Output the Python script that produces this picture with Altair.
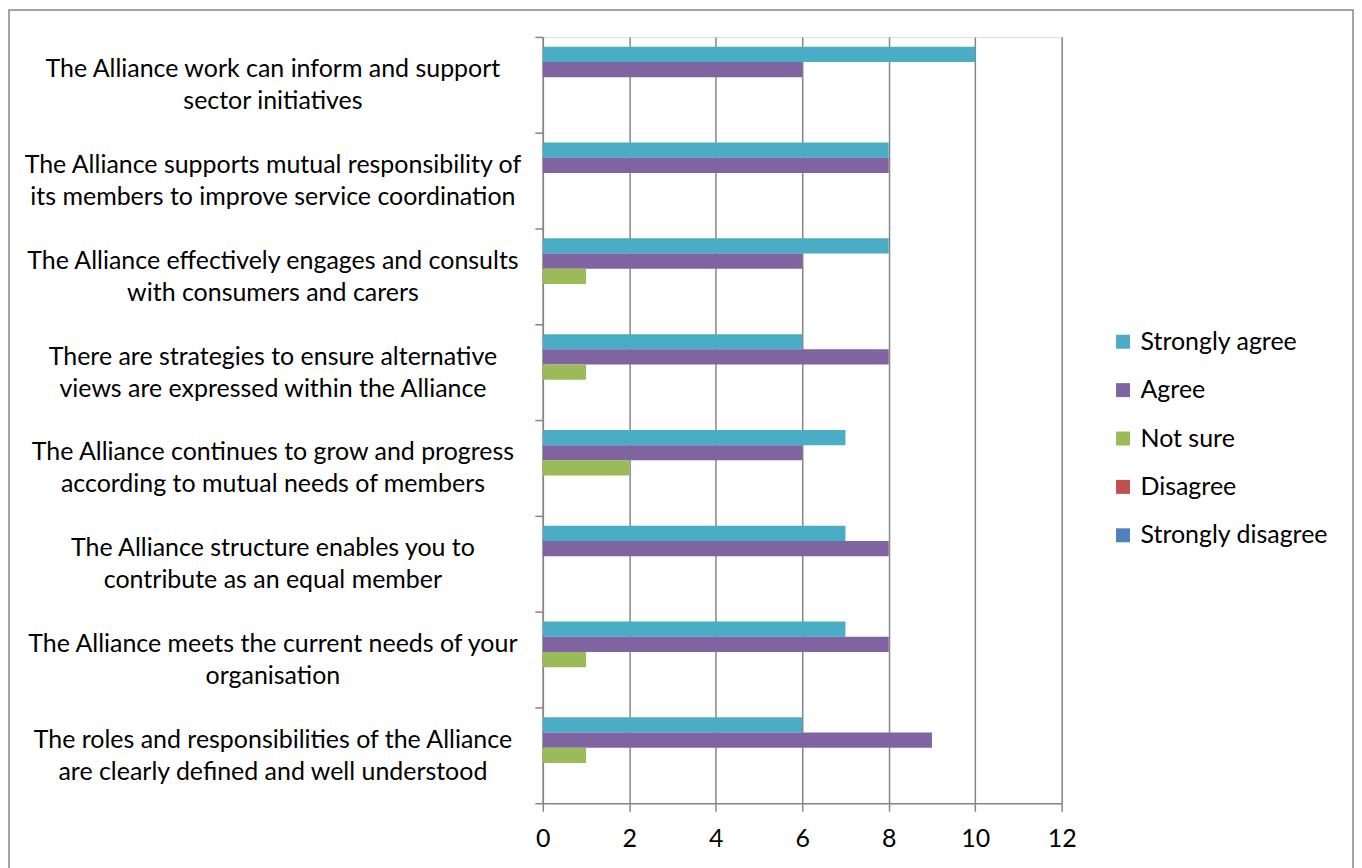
import altair as alt
import pandas as pd

categories = [
    "The Alliance work can inform and support|sector initiatives",
    "The Alliance supports mutual responsibility of|its members to improve service coordination",
    "The Alliance effectively engages and consults|with consumers and carers",
    "There are strategies to ensure alternative|views are expressed within the Alliance",
    "The Alliance continues to grow and progress|according to mutual needs of members",
    "The Alliance structure enables you to|contribute as an equal member",
    "The Alliance meets the current needs of your|organisation",
    "The roles and responsibilities of the Alliance|are clearly defined and well understood",
]
series = ["Strongly agree", "Agree", "Not sure", "Disagree", "Strongly disagree"]
colors = ["#4BACC6", "#8064A2", "#9BBB59", "#C0504D", "#4F81BD"]

strongly_agree = [10, 8, 8, 6, 7, 7, 7, 6]
agree = [6, 8, 6, 8, 6, 8, 8, 9]
not_sure = [0, 0, 1, 1, 2, 0, 1, 1]
disagree = [0, 0, 0, 0, 0, 0, 0, 0]
strongly_disagree = [0, 0, 0, 0, 0, 0, 0, 0]
x_ticks = [0, 2, 4, 6, 8, 10, 12]

rows = []
for s, vals in zip(series, [strongly_agree, agree, not_sure, disagree, strongly_disagree]):
    for c, v in zip(categories, vals):
        rows.append({"Statement": c, "Response": s, "Count": v})
df = pd.DataFrame(rows)

FONT = "Lato"
FS = 25
GRAY = "#868686"

bars = alt.Chart(df).mark_bar().encode(
    y=alt.Y(
        "Statement:N",
        sort=categories,
        title=None,
        scale=alt.Scale(paddingInner=0, paddingOuter=0),
        axis=alt.Axis(
            labelExpr="split(datum.label, '|')",
            labelAlign="center",
            labelPadding=263,
            labelOffset=-16,
            labelFont=FONT,
            labelFontSize=FS,
            labelColor="black",
            labelLineHeight=32,
            labelLimit=700,
            tickBand="extent",
            tickSize=8,
            tickColor=GRAY,
            tickWidth=1.5,
            domainColor=GRAY,
            domainWidth=1.5,
            grid=False,
        ),
    ),
    yOffset=alt.YOffset(
        "Response:N",
        sort=series,
        scale=alt.Scale(paddingInner=0, paddingOuter=0.65),
    ),
    x=alt.X(
        "Count:Q",
        title=None,
        scale=alt.Scale(domain=[0, 12], nice=False),
        axis=alt.Axis(
            values=x_ticks,
            labelFont=FONT,
            labelFontSize=FS,
            labelColor="black",
            labelPadding=15,
            labelFlush=False,
            tickSize=8,
            tickColor=GRAY,
            tickWidth=1.5,
            domainColor=GRAY,
            domainWidth=1.5,
            grid=True,
            gridColor=GRAY,
            gridWidth=1.5,
        ),
    ),
    color=alt.Color(
        "Response:N",
        sort=series,
        scale=alt.Scale(domain=series, range=colors),
        legend=alt.Legend(
            title=None,
            orient="none",
            legendX=569,
            legendY=293,
            symbolType="square",
            symbolSize=196,
            symbolStrokeWidth=0,
            labelFont=FONT,
            labelFontSize=FS,
            labelColor="black",
            labelOffset=5,
            rowPadding=22.5,
            labelLimit=400,
        ),
    ),
)

frame = alt.Chart(alt.Data(values=[{}])).mark_rect(
    fill=None, stroke=GRAY, strokeWidth=1.5
).encode(
    x=alt.value(-535),
    x2=alt.value(812),
    y=alt.value(-27),
    y2=alt.value(850),
)

chart = alt.layer(frame, bars).properties(
    width=520, height=768, padding=0
).configure_view(stroke=None).configure(background="white")

chart.save("out.html", embed_options={"renderer": "svg", "actions": False})
